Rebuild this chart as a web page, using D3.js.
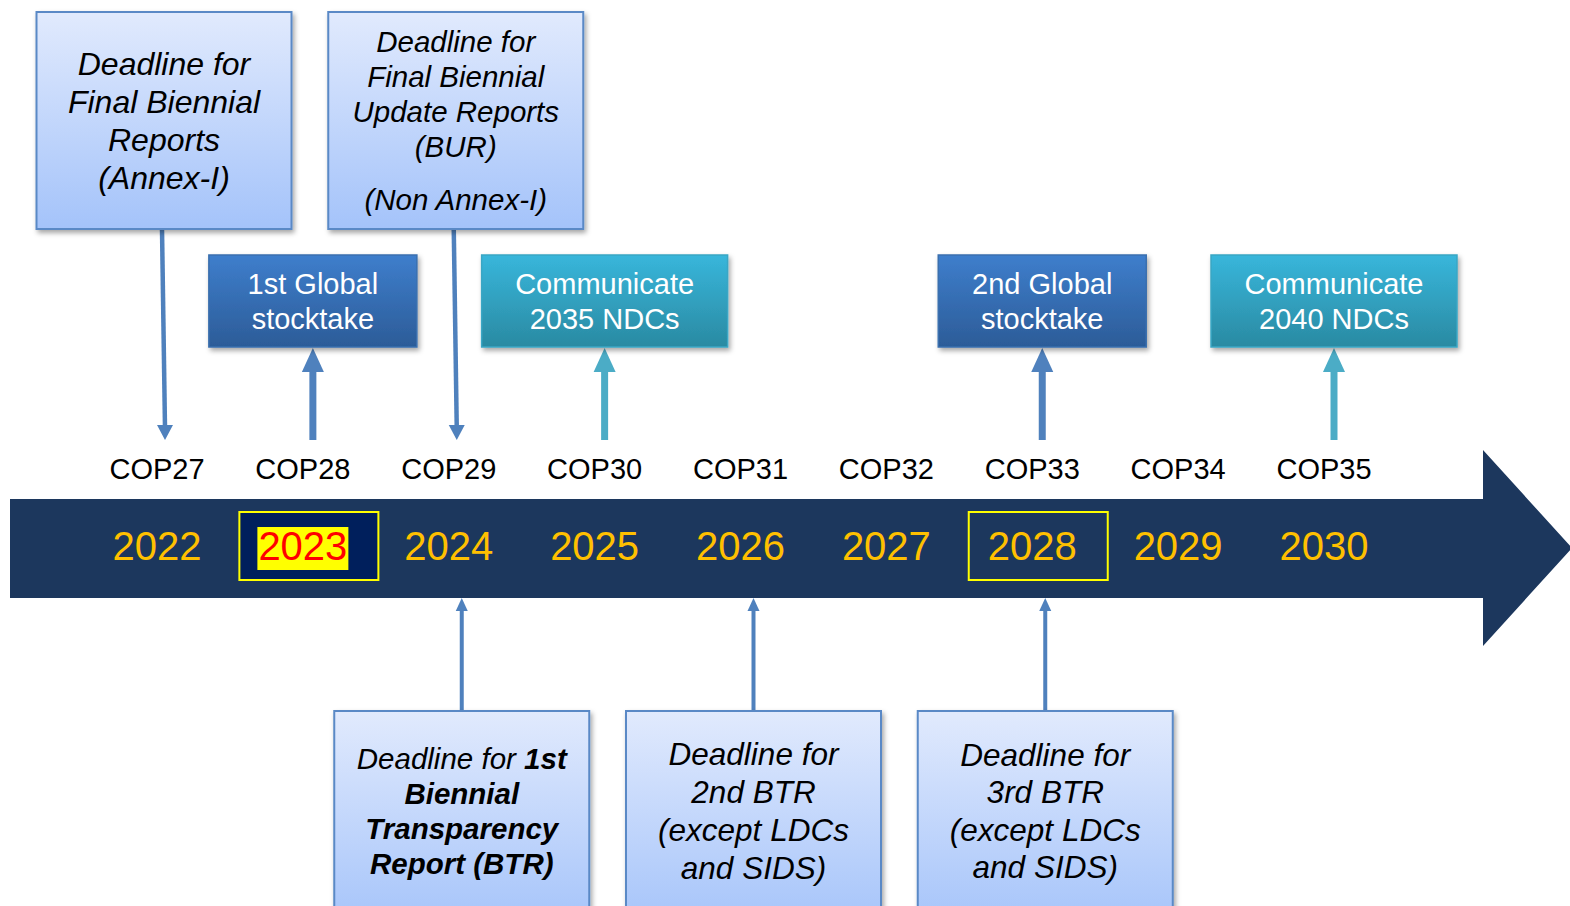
<!DOCTYPE html>
<html>
<head>
<meta charset="utf-8">
<script src="https://cdn.jsdelivr.net/npm/d3@7"></script>
<style>
  html, body { margin: 0; padding: 0; background: #fff; overflow: hidden; }
  svg { display: block; font-family: "Liberation Sans", Arial, sans-serif; }
</style>
</head>
<body>
<svg></svg>
<script>
/* global d3 */

const WIDTH  = 1570;
const HEIGHT = 906;

const years     = [2022, 2023, 2024, 2025, 2026, 2027, 2028, 2029, 2030];
const copLabels = ['COP27', 'COP28', 'COP29', 'COP30', 'COP31', 'COP32', 'COP33', 'COP34', 'COP35'];
const framedYears = [2023, 2028];
const currentYear = 2023;

// boxes above the timeline, pointing down
const reportDeadlines = [
  { id: 'annexI', year: 2022, lines: ['Deadline for', 'Final Biennial', 'Reports', '(Annex-I)'] },
  { id: 'bur',    year: 2024, lines: ['Deadline for', 'Final Biennial', 'Update Reports', '(BUR)', '', '(Non Annex-I)'] },
];

// coloured boxes just above the timeline, pointed at from the year
const milestones = [
  { kind: 'stocktake', year: 2023, lines: ['1st Global', 'stocktake'] },
  { kind: 'ndc',       year: 2025, lines: ['Communicate', '2035 NDCs'] },
  { kind: 'stocktake', year: 2028, lines: ['2nd Global', 'stocktake'] },
  { kind: 'ndc',       year: 2030, lines: ['Communicate', '2040 NDCs'] },
];

// boxes below the timeline, pointing up
const btrDeadlines = [
  { id: 'btr1', year: 2024, lines: ['Deadline for **1st**', '**Biennial**', '**Transparency**', '**Report (BTR)**'] },
  { id: 'btr2', year: 2026, lines: ['Deadline for', '2nd BTR', '(except LDCs', 'and SIDS)'] },
  { id: 'btr3', year: 2028, lines: ['Deadline for', '3rd BTR', '(except LDCs', 'and SIDS)'] },
];

//-------------------------------------------------

const fontFor = { annexI: 32, bur: 29.5, btr1: 29.5, btr2: 31.5, btr3: 31.5 };
const lineFor = { annexI: 38, bur: 35, btr1: 35, btr2: 38, btr3: 37.5 };
const milestoneStyle = {
  stocktake: { width: 208, grad: 'gradStock', stroke: '#3a6fae', arrow: '#4f81bd' },
  ndc:       { width: 246, grad: 'gradNdc',   stroke: '#3aa6c4', arrow: '#4bacc6' },
};

const x = d3.scalePoint()
  .domain(years)
  .range([157, 1324]);

const svg = d3.select('svg')
  .attr('width', WIDTH)
  .attr('height', HEIGHT);

const defs = svg.append('defs');

const addGradient = function (id, top, bottom) {
  const g = defs.append('linearGradient')
    .attr('id', id)
    .attr('x1', 0).attr('y1', 0).attr('x2', 0).attr('y2', 1);
  g.append('stop').attr('offset', '0%').attr('stop-color', top);
  g.append('stop').attr('offset', '100%').attr('stop-color', bottom);
};
addGradient('gradLight', '#e1eafd', '#a4c3fa');
addGradient('gradStock', '#3e7ecc', '#2c5c98');
addGradient('gradNdc',   '#38b6db', '#2a8aa2');

defs.append('filter')
  .attr('id', 'shadow')
  .attr('x', '-10%').attr('y', '-10%').attr('width', '130%').attr('height', '130%')
  .append('feDropShadow')
  .attr('dx', 2).attr('dy', 3)
  .attr('stdDeviation', 2.5)
  .attr('flood-color', '#000')
  .attr('flood-opacity', 0.35);

// writes centred lines, "**text**" parts are bold
const writeLines = function (g, cx, firstY, lines, size, step, opts) {
  let y = firstY;
  lines.forEach((line) => {
    if (line === '') {
      y += step * 0.5;
      return;
    }
    const t = g.append('text')
      .attr('x', cx)
      .attr('y', y)
      .attr('dy', '0.35em')
      .attr('text-anchor', 'middle')
      .attr('font-size', size)
      .attr('font-style', opts.italic ? 'italic' : 'normal')
      .attr('fill', opts.color);
    line.split('**').forEach((part, i) => {
      if (part === '') return;
      t.append('tspan')
        .attr('font-weight', i % 2 === 1 ? 'bold' : 'normal')
        .text(part);
    });
    y += step;
  });
  return y;
};

const blockHeight = (lines, step) =>
  lines.reduce((h, l) => h + (l === '' ? step * 0.5 : step), 0) - step;

//------------------------------------------------- timeline

svg.append('path')
  .attr('d', `M10,499 H1483 V450 L${WIDTH + 2},548 L1483,646 V598 H10 Z`)
  .attr('fill', '#1c375d');

const frames = svg.append('g');
framedYears.forEach((yr) => {
  frames.append('rect')
    .attr('x', x(yr) + 6 - 69.5)
    .attr('y', 512)
    .attr('width', 139)
    .attr('height', 68)
    .attr('fill', yr === currentYear ? '#001f5c' : 'none')
    .attr('stroke', '#ffff00')
    .attr('stroke-width', 2);
});

const yearLabels = svg.append('g')
  .selectAll('text')
  .data(years)
  .enter()
  .append('text')
  .attr('x', d => x(d))
  .attr('y', 546)
  .attr('dy', '0.35em')
  .attr('text-anchor', 'middle')
  .attr('font-size', 40)
  .attr('fill', d => d === currentYear ? '#ff0000' : '#ffc000')
  .text(d => d);

yearLabels.filter(d => d === currentYear).each(function () {
  const b = this.getBBox();
  d3.select(this.parentNode).insert('rect', 'text')
    .attr('x', b.x - 1)
    .attr('y', 527)
    .attr('width', b.width + 2)
    .attr('height', 43)
    .attr('fill', '#ffff00');
});

svg.append('g')
  .selectAll('text')
  .data(copLabels)
  .enter()
  .append('text')
  .attr('x', (d, i) => x(years[i]))
  .attr('y', 469)
  .attr('dy', '0.35em')
  .attr('text-anchor', 'middle')
  .attr('font-size', 29)
  .attr('fill', '#000')
  .text(d => d);

//------------------------------------------------- top report boxes

const TOP_Y = 12;
const TOP_H = 217;
const BOX_W = 255;

reportDeadlines.forEach((d) => {
  const cx = x(d.year) + 7;
  const g = svg.append('g');
  g.append('line')
    .attr('x1', cx - 2).attr('y1', TOP_Y + TOP_H)
    .attr('x2', cx + 1).attr('y2', 428)
    .attr('stroke', '#4f81bd')
    .attr('stroke-width', 4.5);
  g.append('path')
    .attr('d', `M${cx - 7},425 L${cx + 9},425 L${cx + 1},440 Z`)
    .attr('fill', '#4f81bd');
  g.append('rect')
    .attr('x', cx - BOX_W / 2)
    .attr('y', TOP_Y)
    .attr('width', BOX_W)
    .attr('height', TOP_H)
    .attr('fill', 'url(#gradLight)')
    .attr('stroke', '#5a89c6')
    .attr('stroke-width', 2)
    .attr('filter', 'url(#shadow)');
  const step = lineFor[d.id];
  const first = TOP_Y + TOP_H / 2 - blockHeight(d.lines, step) / 2;
  writeLines(g, cx, first, d.lines, fontFor[d.id], step, { italic: true, color: '#000' });
});

//------------------------------------------------- milestone boxes

const MID_Y = 255;
const MID_H = 92;

milestones.forEach((d) => {
  const st = milestoneStyle[d.kind];
  const cx = x(d.year) + 10;
  const g = svg.append('g');
  g.append('line')
    .attr('x1', cx).attr('y1', 440)
    .attr('x2', cx).attr('y2', 368)
    .attr('stroke', st.arrow)
    .attr('stroke-width', 7);
  g.append('path')
    .attr('d', `M${cx - 11},372 L${cx + 11},372 L${cx},348 Z`)
    .attr('fill', st.arrow);
  g.append('rect')
    .attr('x', cx - st.width / 2)
    .attr('y', MID_Y)
    .attr('width', st.width)
    .attr('height', MID_H)
    .attr('fill', `url(#${st.grad})`)
    .attr('stroke', st.stroke)
    .attr('stroke-width', 1.5)
    .attr('filter', 'url(#shadow)');
  const step = 35;
  const first = MID_Y + MID_H / 2 - blockHeight(d.lines, step) / 2;
  writeLines(g, cx, first, d.lines, 29, step, { italic: false, color: '#fff' });
});

//------------------------------------------------- bottom BTR boxes

const BOT_Y = 711;
const BOT_H = 200;

btrDeadlines.forEach((d) => {
  const cx = x(d.year) + 13;
  const g = svg.append('g');
  g.append('line')
    .attr('x1', cx).attr('y1', BOT_Y)
    .attr('x2', cx).attr('y2', 608)
    .attr('stroke', '#4f81bd')
    .attr('stroke-width', 4);
  g.append('path')
    .attr('d', `M${cx - 6},611 L${cx + 6},611 L${cx},598 Z`)
    .attr('fill', '#4f81bd');
  g.append('rect')
    .attr('x', cx - BOX_W / 2)
    .attr('y', BOT_Y)
    .attr('width', BOX_W)
    .attr('height', BOT_H + 20)
    .attr('fill', 'url(#gradLight)')
    .attr('stroke', '#5a89c6')
    .attr('stroke-width', 2)
    .attr('filter', 'url(#shadow)');
  const step = lineFor[d.id];
  const first = BOT_Y + BOT_H / 2 - blockHeight(d.lines, step) / 2;
  writeLines(g, cx, first, d.lines, fontFor[d.id], step, { italic: true, color: '#000' });
});
</script>
</body>
</html>
